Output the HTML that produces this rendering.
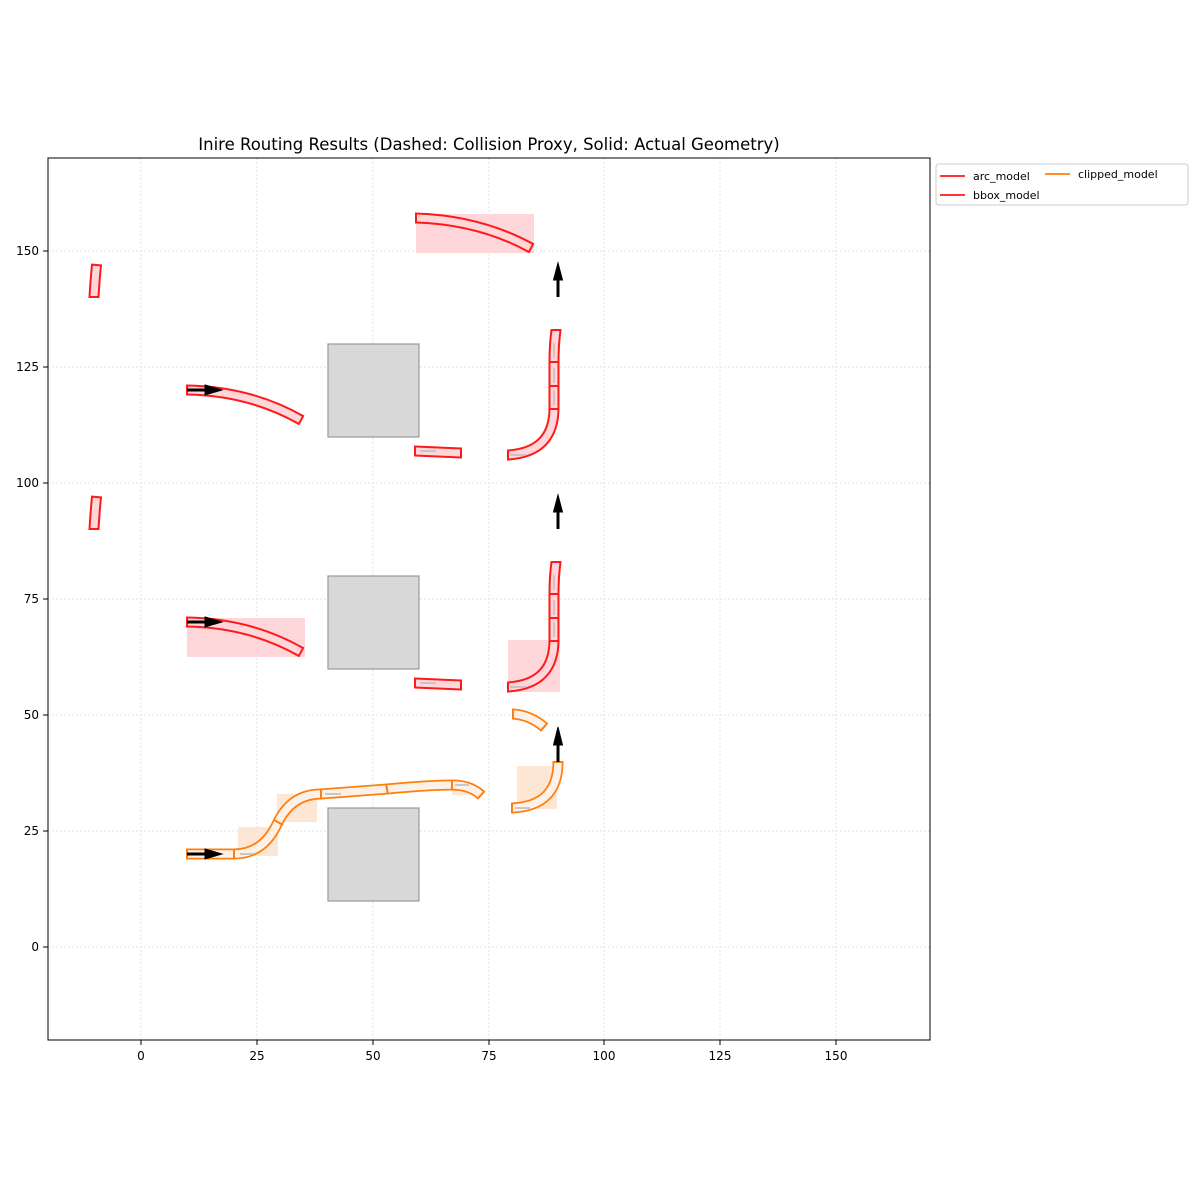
<!DOCTYPE html>
<html><head><meta charset="utf-8"><style>
body{margin:0;background:#fff}
svg{display:block;font-family:"DejaVu Sans","Liberation Sans",sans-serif}
</style></head><body>
<svg width="1200" height="1200" viewBox="0 0 1200 1200">
<rect x="48" y="158" width="882" height="882" fill="#fff"/>
<g stroke="#cfcfcf" stroke-width="0.8" stroke-dasharray="1.5,2.5">
<line x1="141" y1="158" x2="141" y2="1040"/><line x1="257" y1="158" x2="257" y2="1040"/><line x1="373" y1="158" x2="373" y2="1040"/><line x1="489" y1="158" x2="489" y2="1040"/><line x1="604" y1="158" x2="604" y2="1040"/><line x1="720" y1="158" x2="720" y2="1040"/><line x1="836" y1="158" x2="836" y2="1040"/>
<line x1="48" y1="251" x2="930" y2="251"/><line x1="48" y1="367" x2="930" y2="367"/><line x1="48" y1="483" x2="930" y2="483"/><line x1="48" y1="599" x2="930" y2="599"/><line x1="48" y1="715" x2="930" y2="715"/><line x1="48" y1="831" x2="930" y2="831"/><line x1="48" y1="947" x2="930" y2="947"/>
</g>
<g fill="#ffd6d9">
<rect x="416" y="214" width="118" height="39"/>
<rect x="187" y="618" width="118" height="39"/>
<rect x="508" y="640" width="52" height="52"/>
</g>
<g fill="#fde6d4">
<rect x="238" y="827" width="40" height="29"/>
<rect x="277" y="794" width="40" height="28"/>
<rect x="452" y="784" width="16" height="11"/>
<rect x="517" y="766" width="40" height="43"/>
</g>
<g fill="#d8d8d8" stroke="#999" stroke-width="1.2">
<rect x="328" y="344" width="91" height="93"/>
<rect x="328" y="576" width="91" height="93"/>
<rect x="328" y="808" width="91" height="93"/>
</g>
<g fill="none" stroke-linecap="butt">
<g stroke="#ff1a1a" stroke-width="11">
<path d="M94,297 Q95,280 96.5,265"/>
<path d="M94,529 Q95,512 96.5,497"/>
<path d="M416,218 Q480,220 531,248"/>
<path d="M187,390 Q250,391 301,420"/>
<path d="M187,622 Q250,623 301,652"/>
<path d="M415,451 L461,453"/>
<path d="M415,683 L461,685"/>
<path d="M508,455 Q554,452 554,408 L554,362 Q554,345 556,330"/>
<path d="M508,687 Q554,684 554,640 L554,594 Q554,577 556,562"/>
</g>
<g stroke="#ffd6d9" stroke-width="7">
<path d="M94,297 Q95,280 96.5,265"/>
<path d="M94,529 Q95,512 96.5,497"/>
<path d="M416,218 Q480,220 531,248"/>
<path d="M187,390 Q250,391 301,420"/>
<path d="M187,622 Q250,623 301,652"/>
<path d="M415,451 L461,453"/>
<path d="M415,683 L461,685"/>
<path d="M508,455 Q554,452 554,408 L554,362 Q554,345 556,330"/>
<path d="M508,687 Q554,684 554,640 L554,594 Q554,577 556,562"/>
</g>
<g stroke="#ff1a1a" stroke-width="2">
<path d="M549,386 H559 M549,409 H559 M549,362 H559"/>
<path d="M549,618 H559 M549,641 H559 M549,594 H559"/>
<path d="M88.5,297 H99.5 M91,264.5 L102,265.5 M88.5,529 H99.5 M91,496.5 L102,497.5"/>
<path d="M416,212.5 V223.5 M533.6,243.2 L528.4,252.8"/>
<path d="M187,384.5 V395.5 M303.6,415.2 L298.4,424.8 M187,616.5 V627.5 M303.6,647.2 L298.4,656.8"/>
<path d="M415,445.5 V456.5 M461,447.5 V458.5 M415,677.5 V688.5 M461,679.5 V690.5"/>
<path d="M508,449.5 V460.5 M550.5,330 H561.5 M508,681.5 V692.5 M550.5,562 H561.5"/>
</g>
<g stroke="#ff7f0e" stroke-width="11">
<path d="M187,854 L234,854 Q264,854 278,822 Q292,794 321,794 L387,789 Q430,785 452,785 Q470,785 481,795"/>
<path d="M513,714 Q530,715 544,727"/>
<path d="M512,808 Q558,806 558,762"/>
</g>
<g stroke="#fdf1e8" stroke-width="7.5">
<path d="M187,854 L234,854 Q264,854 278,822 Q292,794 321,794 L387,789 Q430,785 452,785 Q470,785 481,795"/>
<path d="M513,714 Q530,715 544,727"/>
<path d="M512,808 Q558,806 558,762"/>
</g>
<g stroke="#ff7f0e" stroke-width="2">
<path d="M234,849 V859 M274,820 L283,825 M321,789 V799 M386,784 L388,794 M452,780 V790"/>
<path d="M187,848.5 V859.5 M484.7,790.9 L477.3,799.1 M513,708.5 V719.5 M547.6,722.8 L540.4,731.2 M512,802.5 V813.5 M552.5,762 H563.5"/>
</g>
<g stroke="#bbb" stroke-width="1.5">
<path d="M420,451 H436 M420,683 H436 M510,455 H526 M510,687 H526 M240,854 H254 M325,794 H341 M455,785 H469 M515,808 H530 M554,405 V390 M554,383 V368 M554,358 V343 M554,637 V622 M554,615 V600 M554,590 V575"/>
</g>
</g>
<g stroke="#000" stroke-width="3">
<line x1="187" y1="390" x2="208" y2="390"/><path d="M205,385 L222,390 L205,395z" fill="#000" stroke-width="1"/>
<line x1="187" y1="622" x2="208" y2="622"/><path d="M205,617 L222,622 L205,627z" fill="#000" stroke-width="1"/>
<line x1="187" y1="854" x2="208" y2="854"/><path d="M205,849 L222,854 L205,859z" fill="#000" stroke-width="1"/>
<line x1="558" y1="297" x2="558" y2="278"/><path d="M553.5,280 L558,263 L562.5,280z" fill="#000" stroke-width="1"/>
<line x1="558" y1="529" x2="558" y2="510"/><path d="M553.5,512 L558,495 L562.5,512z" fill="#000" stroke-width="1"/>
<line x1="558" y1="762" x2="558" y2="743"/><path d="M553.5,745 L558,727 L562.5,745z" fill="#000" stroke-width="1"/>
</g>
<rect x="48" y="158" width="882" height="882" fill="none" stroke="#000" stroke-width="1"/>
<g stroke="#000" stroke-width="1">
<path d="M141,1040v5M257,1040v5M373,1040v5M489,1040v5M604,1040v5M720,1040v5M836,1040v5"/>
<path d="M48,251h-5M48,367h-5M48,483h-5M48,599h-5M48,715h-5M48,831h-5M48,947h-5"/>
</g>
<g font-size="12" fill="#000" text-anchor="middle">
<text x="141" y="1060">0</text><text x="257" y="1060">25</text><text x="373" y="1060">50</text><text x="489" y="1060">75</text><text x="604" y="1060">100</text><text x="720" y="1060">125</text><text x="836" y="1060">150</text>
</g>
<g font-size="12" fill="#000" text-anchor="end">
<text x="39" y="255">150</text><text x="39" y="371">125</text><text x="39" y="487">100</text><text x="39" y="603">75</text><text x="39" y="719">50</text><text x="39" y="835">25</text><text x="39" y="951">0</text>
</g>
<text x="489" y="150" font-size="16.5" text-anchor="middle">Inire Routing Results (Dashed: Collision Proxy, Solid: Actual Geometry)</text>
<rect x="936" y="164" width="252" height="41" rx="3" fill="#fff" stroke="#ccc"/>
<line x1="940" y1="176" x2="965" y2="176" stroke="#ff1a1a" stroke-width="1.8"/>
<text x="973" y="180" font-size="11">arc_model</text>
<line x1="940" y1="195" x2="965" y2="195" stroke="#ff1a1a" stroke-width="1.8"/>
<text x="973" y="199" font-size="11">bbox_model</text>
<line x1="1045" y1="174" x2="1070" y2="174" stroke="#ff7f0e" stroke-width="1.8"/>
<text x="1078" y="178" font-size="11">clipped_model</text>
</svg>
</body></html>
